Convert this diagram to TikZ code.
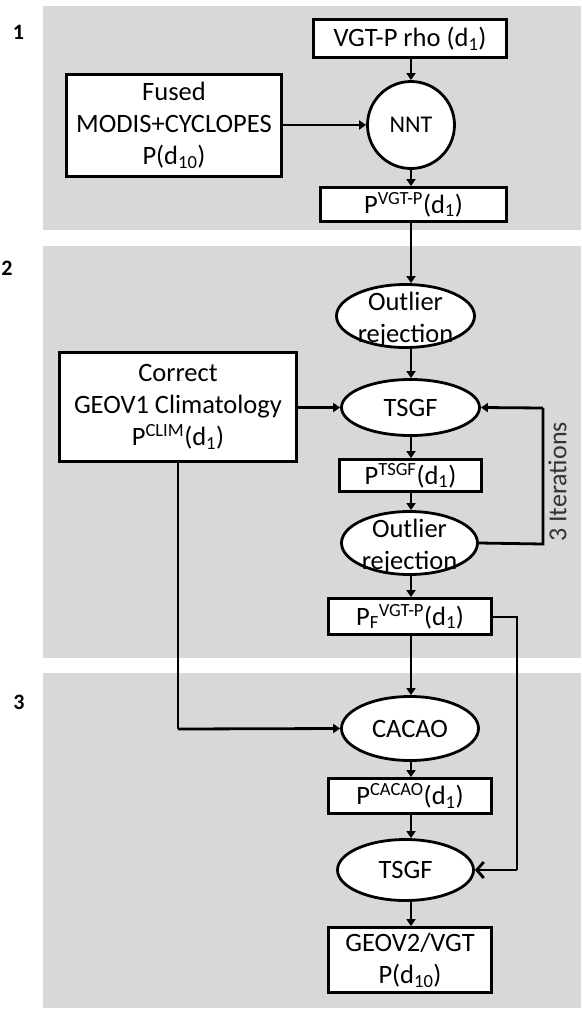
\documentclass[tikz,border=0pt]{standalone}
\usepackage{fontspec}
\setmainfont{Carlito}
\usetikzlibrary{arrows.meta,shapes.geometric}
\definecolor{band}{HTML}{D8D8D8}
\definecolor{itertxt}{HTML}{333333}
\tikzset{
  main font/.style={font={\fontsize{26.5}{32}\selectfont}},
  boxnode/.style={draw=black, fill=white, line width=2.8pt, rectangle, inner sep=0pt, align=center, main font},
  ellnode/.style={draw=black, fill=white, line width=2.8pt, ellipse, inner sep=0pt, align=center, main font},
  ellabel/.style={align=center, main font, inner sep=0pt},
  arr/.style={line width=2.8pt, -{Triangle[length=7pt,width=9pt]}},
  plainline/.style={line width=2.8pt},
  openarr/.style={line width=2.8pt, -{Straight Barb[length=7pt,width=16pt,line width=2.8pt]}},
  numlabel/.style={font={\fontsize{22}{26}\selectfont\bfseries}, inner sep=0pt},
}
\begin{document}
\begin{tikzpicture}[x=1pt,y=-1pt]
\useasboundingbox (0,0) rectangle (581,1012);
% bands
\fill[band] (43,6) rectangle (581,230);
\fill[band] (43,246) rectangle (581,658);
\fill[band] (43,673) rectangle (581,1008);
% section numbers
\node[numlabel] (n1) at (18.5,32) {1};
\node[numlabel] (n2) at (7,268) {2};
\node[numlabel] (n3) at (19,702) {3};
% column coordinate
\coordinate (col) at (411,0);
% section 1
\node[boxnode, minimum width=193pt, minimum height=38pt] (rho) at (410,38.5) {VGT-P rho (d\textsubscript{1})};
\node[boxnode, circle, minimum size=87pt, font={\fontsize{24}{28}\selectfont}] (nnt) at (411,125) {NNT};
\node[boxnode, minimum width=215pt, minimum height=102pt] (fused) at (174,125.5) {Fused\\MODIS+CYCLOPES\\P(d\textsubscript{10})};
\node[boxnode, minimum width=186pt, minimum height=34pt] (pvgt) at (413.5,204.5) {P\textsuperscript{VGT-P}(d\textsubscript{1})};
% section 2
\node[ellnode, minimum width=138pt, minimum height=63pt] (out1) at (405.5,316) {};
\node[ellabel] (out1t) at ([yshift=-4pt]out1.center) {Outlier\\rejection};
\node[boxnode, minimum width=237pt, minimum height=109pt] (corr) at (178,407) {Correct\\GEOV1 Climatology\\P\textsuperscript{CLIM}(d\textsubscript{1})};
\node[ellnode, minimum width=138pt, minimum height=56pt] (tsgf1) at (410.5,407.5) {TSGF};
\node[boxnode, minimum width=142pt, minimum height=32pt] (ptsgf) at (410.5,475.5) {P\textsuperscript{TSGF}(d\textsubscript{1})};
\node[ellnode, minimum width=136pt, minimum height=63pt] (out2) at (409.5,543) {};
\node[ellabel] (out2t) at ([yshift=-4pt]out2.center) {Outlier\\rejection};
\node[boxnode, minimum width=163pt, minimum height=36pt] (pf) at (410,616.5) {P\textsubscript{F}\textsuperscript{VGT-P}(d\textsubscript{1})};
% section 3
\node[ellnode, minimum width=137pt, minimum height=64pt] (cacao) at (410,728.5) {CACAO};
\node[boxnode, minimum width=163pt, minimum height=35pt] (pcacao) at (410,796) {P\textsuperscript{CACAO}(d\textsubscript{1})};
\node[ellnode, minimum width=136pt, minimum height=61pt] (tsgf2) at (405.5,870) {TSGF};
\node[boxnode, minimum width=163pt, minimum height=65pt] (geov) at (410,960) {GEOV2/VGT\\P(d\textsubscript{10})};
% loop corners
\coordinate (loopA) at (543,544);
\coordinate (loopB) at (543,408);
\coordinate (sideA) at (517,617);
\coordinate (sideB) at (517,870);
\coordinate (corrturn) at (178,729);
% connectors
\draw[arr] (rho.south -| col) -- (nnt.north -| col);
\draw[arr] (fused.east |- nnt) -- (nnt.west);
\draw[arr] (nnt.south -| col) -- (pvgt.north -| col);
\draw[arr] (pvgt.south -| col) -- (out1.north -| col);
\draw[arr] (out1.south -| col) -- (tsgf1.north -| col);
\draw[arr] (corr.east |- tsgf1) -- (tsgf1.west);
\draw[arr] (tsgf1.south -| col) -- (ptsgf.north -| col);
\draw[arr] (ptsgf.south -| col) -- (out2.north -| col);
\draw[plainline] (out2.east) -- (loopA) -- (loopB);
\draw[arr] (loopB) -- (tsgf1.east);
\node[rotate=90, font={\fontsize{26}{31}\selectfont}, text=itertxt, inner sep=0pt] (iter) at (557.5,482) {3 Iterations};
\draw[arr] (out2.south -| col) -- (pf.north -| col);
\draw[arr] (pf.south -| col) -- (cacao.north -| col);
\draw[plainline] (corr.south) -- (corrturn);
\draw[arr] (corrturn) -- (cacao.west);
\draw[arr] (cacao.south -| col) -- (pcacao.north -| col);
\draw[arr] (pcacao.south -| col) -- (tsgf2.north -| col);
\draw[plainline] (pf.east |- sideA) -- (sideA) -- (sideB);
\draw[openarr] (sideB) -- (tsgf2.east);
\draw[arr] (tsgf2.south -| col) -- (geov.north -| col);
\end{tikzpicture}
\end{document}
